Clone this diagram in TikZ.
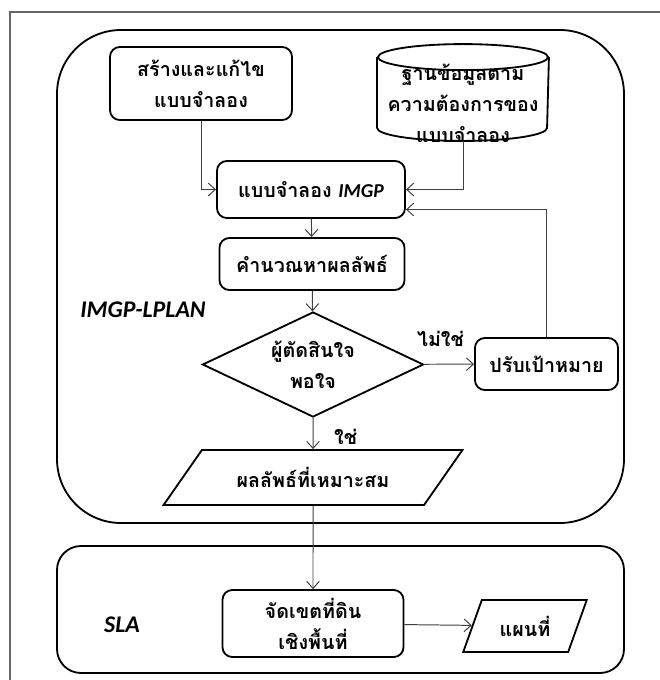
\documentclass[tikz,border=0pt]{standalone}
\usepackage{fontspec}
\setmainfont{Carlito}
\newfontfamily\thaifont[Script=Thai]{Loma}
\usetikzlibrary{shapes.geometric,arrows.meta}

\tikzset{
  box/.style={draw,line width=1.3pt,align=center,inner sep=2pt,
    font=\thaifont\bfseries\fontsize{14}{22}\selectfont},
  proc/.style={box,rounded corners=7pt},
  flow/.style={draw=black!75,line width=0.7pt,-{Straight Barb[length=5pt,width=9pt]}},
  lbl/.style={font=\thaifont\bfseries\fontsize{14}{16}\selectfont},
  area/.style={font=\bfseries\itshape\fontsize{17}{17}\selectfont}
}

\begin{document}
\begin{tikzpicture}[x=0.025cm,y=-0.025cm]
  \useasboundingbox (0,0) rectangle (660,680);
  \draw[black!60,line width=1pt] (660,12) -- (10,12) -- (10,680);

  % the two areas
  \draw[line width=1.3pt,rounded corners=1.6cm] (57,30) rectangle (624,523);
  \draw[line width=1.3pt,rounded corners=0.6cm] (57,546) rectangle (624,673);
  \node[area] (lplan) at (143,310) {IMGP-LPLAN};
  \node[area] (sla)   at (122,625) {SLA};

  \begin{scope}[every node/.style={box}]
    \node[proc,minimum width=4.55cm,minimum height=1.825cm] (edit) at (201,83.5) {สร้างและแก้ไข\\แบบจำลอง};
    \node[draw=none,inner sep=0pt,minimum width=4.25cm,minimum height=2.375cm] (db) at (463,92.5) {};
    \node[draw=none] (dbtext) at (463,103) {ฐานข้อมูลตาม\\ความต้องการของ\\แบบจำลอง};
    \node[proc,minimum width=4.7cm,minimum height=1.425cm] (model) at (311,189.5) {แบบจำลอง {\rmfamily\itshape IMGP}};
    \node[proc,minimum width=4.625cm,minimum height=1.3cm] (solve) at (312,264) {คำนวณหาผลลัพธ์};
    \node[diamond,aspect=2.1,inner sep=0pt,minimum width=5.525cm,minimum height=2.625cm] (dec) at (313,364.5) {ผู้ตัดสินใจ\\พอใจ};
    \node[proc,minimum width=3.575cm,minimum height=1.3cm] (adj) at (546.5,364) {ปรับเป้าหมาย};
    \node[trapezium,trapezium left angle=43.5,trapezium right angle=136.5,trapezium stretches=true,
      minimum width=7.475cm,minimum height=1.375cm] (opt) at (313,477.5) {ผลลัพธ์ที่เหมาะสม};
    \node[proc,minimum width=4.525cm,minimum height=1.675cm] (zone) at (313,623.5) {จัดเขตที่ดิน\\เชิงพื้นที่};
    \node[trapezium,trapezium left angle=65,trapezium right angle=115,trapezium stretches=true,
      minimum width=3.1cm,minimum height=1.3cm] (map) at (525,626) {แผนที่};
  \end{scope}

  % database drum
  \draw[line width=1.3pt] ([yshift=-0.325cm]db.north) ellipse [x radius=85,y radius=13];
  \draw[line width=1.3pt] ([yshift=-0.325cm]db.north west) -- ([yshift=0.325cm]db.south west)
    arc [start angle=180,end angle=0,x radius=85,y radius=13] -- ([yshift=-0.325cm]db.north east);

  \begin{scope}[every edge/.style={flow}]
    \path (model) edge (solve);
    \path (solve) edge (dec);
    \path (dec)   edge node[lbl,above=0.3cm,pos=0.33] {ไม่ใช่} (adj);
    \path (dec)   edge node[lbl,right,pos=0.6,xshift=0.4cm] {ใช่} (opt);
    \path (opt)   edge (zone);
    \path (zone)  edge (map);
  \end{scope}
  \draw[flow] (edit.south) |- (model.west);
  \draw[flow] (db.south) |- (model.east);
  \draw[flow] (adj.north) |- ([yshift=-0.5cm]model.east);

\end{tikzpicture}
\end{document}
